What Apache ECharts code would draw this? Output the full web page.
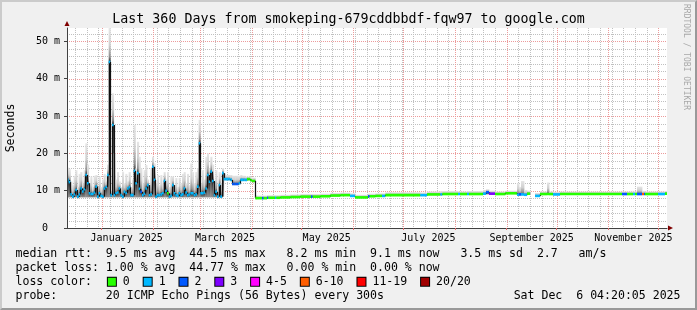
<!DOCTYPE html>
<html><head><meta charset="utf-8">
<script src="https://cdn.jsdelivr.net/npm/echarts@6/dist/echarts.min.js"></script>
<style>
html,body{margin:0;padding:0;background:#f0f0f0;}
#wrap{position:relative;width:697px;height:310px;}
#chart{position:absolute;left:0;top:0;width:697px;height:310px;}
#frame{position:absolute;left:0;top:0;width:697px;height:310px;box-sizing:border-box;border-style:solid;border-width:2px;border-color:#cbcbcb #999 #999 #cbcbcb;pointer-events:none;}
</style></head><body>
<div id="wrap"><div id="chart"></div><div id="frame"></div></div>
<script>
// ---------- time frame ----------
const START = Date.UTC(2024, 11, 11, 4, 20, 5);   // 360 days before Sat Dec 6 04:20:05 2025
const SPAN_DAYS = 360;
const Y_MAX = 53.6;

// ---------- data (each sample lasts until the next sample's start day) ----------
const sampleDay = [
  0,1,2,3,4,5,6,7,8,9, 10,11,12,13,14,15,16,17,18,19, 20,21,22,23,24,25,26,27,28,29,
  30,31,32,33,34,35,36,37,38,39, 40,41,42,43,44,45,46,47,48,49, 50,51,52,53,54,55,56,57,58,59,
  60,61,62,63,64,65,66,67,68,69, 70,71,72,73,74,75,76,77,78,79, 80,81,82,83,84,85,86,87,88,89,
  90,91,92,93,94,95,96,97,98,99, 100,101,102,103,104,105,106,107,108,109, 110,111,112,113,
  114,117,118,120,120.8, 124.8,125.6,128,134,140, 146.4,147.4,152,158,164, 169.8,172.8,180.6,181.6,185,
  189,191,212,216,224, 225.2,234.6,235.8,240,241.2, 249.6,251.4,253.2,256.8,263, 270,271.2,272.4,274.2,276,
  277.8,280.8,283.8,288,289.2, 291.6,295.8,333,336,339.6, 340.8,342,345,346.2,346.8, 354.6,358.8
];
const medianMs = [
  12.9,12.3,9.0,8.4,9.0,10.2,8.4,9.0,10.6,9.8,
  10.4,14.2,12.0,9.3,9.1,9.1,9.5,11.1,8.4,9.3,
  8.6,8.4,10.6,11.0,14.2,44.5,8.8,27.6,8.8,9.3,
  9.5,10.6,8.8,8.4,9.7,9.4,10.6,10.9,8.8,8.8,
  15.3,12.0,14.7,10.5,9.7,8.8,9.2,10.6,11.5,8.8,
  9.0,16.4,12.9,8.4,8.8,8.8,9.0,9.3,12.6,10.0,
  9.3,8.4,8.6,11.5,9.3,8.8,8.6,9.3,8.8,9.0,
  10.6,9.5,8.8,9.0,9.3,9.3,8.8,9.0,11.1,22.7,
  9.3,9.3,9.5,10.6,14.2,12.4,15.1,12.6,8.8,9.7,
  8.4,11.5,8.4,14.7,13.1,13.1,13.1,13.1,12.9,11.8,
  11.8,11.8,11.8,12.0,12.9,12.9,12.9,12.9,13.1,13.1,
  12.8,12.6,12.6,8.0,
  8.0,8.0,8.0,8.1,8.1, 8.1,8.1,8.2,8.3,8.4, 8.4,8.4,8.5,8.7,8.8, 8.6,8.2,8.5,8.5,8.6,
  8.6,8.8,8.8,9.0,9.0, 9.1,9.1,9.1,9.1,9.1, 9.2,9.6,9.2,9.1,9.3, 8.9,9.0,9.0,8.9,9.2,
  null,8.6,9.1,9.1,9.1, 9.0,9.1,9.1,9.1,9.1, 9.1,9.1,9.1,9.1,9.1, 9.1,9.2
];
const smokeLoMs = [
  8.2,8.2,8.2,8.0,8.2,8.2,8.0,8.2,8.2,8.2,
  8.2,8.2,8.2,8.2,8.2,8.2,8.2,8.2,8.0,8.2,
  8.2,8.0,8.2,8.2,8.2,8.2,8.2,8.2,8.2,8.2,
  8.2,8.2,8.2,8.0,8.2,8.2,8.2,8.2,8.2,8.2,
  8.2,8.2,8.2,8.2,8.2,8.2,8.2,8.2,8.2,8.2,
  8.2,8.2,8.2,8.0,8.2,8.2,8.2,8.2,8.2,8.2,
  8.2,8.0,8.2,8.2,8.2,8.2,8.2,8.2,8.2,8.2,
  8.2,8.2,8.2,8.2,8.2,8.2,8.2,8.2,8.2,8.2,
  8.2,8.2,8.2,8.2,8.2,8.2,8.2,8.2,8.2,8.2,
  8.0,8.2,8.0,8.4,12.8,12.8,12.8,12.8,12.6,11.5,
  11.5,11.5,11.5,11.7,12.6,12.6,12.6,12.6,12.8,12.8,
  12.5,12.3,12.3,7.8,
  7.8,7.8,7.8,7.9,7.9, 7.9,7.9,8.0,8.1,8.2, 8.2,8.2,8.3,8.5,8.6, 8.4,8.0,8.3,8.3,8.4,
  8.4,8.6,8.6,8.8,8.8, 8.9,8.9,8.9,8.9,8.9, 9.0,9.0,9.0,8.9,9.1, 8.7,8.8,8.8,8.7,9.0,
  null,8.4,8.9,8.9,8.9, 8.8,8.9,8.9,8.9,8.9, 8.9,8.9,8.9,8.9,8.9, 8.9,9.0
];
const smokeHiMs = [
  16.2,15.8,12.5,11.5,14.0,15.5,11.0,14.5,15.0,12.0,
  15.5,22.7,17.0,11.5,13.8,11.0,14.0,14.2,11.0,13.8,
  11.0,13.0,14.5,12.5,17.0,53.6,10.0,36.1,20.0,13.0,
  15.0,12.5,11.0,15.1,12.0,14.5,12.5,15.0,11.0,13.0,
  27.6,16.0,23.1,19.1,16.0,12.0,15.5,16.9,13.0,11.5,
  16.0,19.1,17.3,12.0,14.2,11.5,14.2,12.0,15.0,13.0,
  15.0,11.0,13.8,13.8,11.5,13.4,11.0,13.4,12.0,14.5,
  15.0,12.0,14.5,11.5,17.3,15.0,12.0,15.0,16.0,29.0,
  12.0,15.5,13.0,19.1,20.0,16.0,19.1,17.0,12.0,15.5,
  11.0,15.0,12.0,16.0,14.5,14.2,14.2,14.2,14.2,14.0,
  14.0,14.0,14.0,14.0,14.2,14.0,14.0,13.8,13.8,13.8,
  13.6,13.5,13.5,8.8,
  8.7,8.7,8.7,8.8,8.8, 8.8,8.8,8.9,9.0,9.1, 9.1,9.1,9.2,9.4,9.5, 9.3,8.9,9.2,9.2,9.3,
  9.3,9.6,9.5,9.8,9.9, 9.9,9.8,9.8,9.9,9.9, 10.2,10.4,10.0,9.8,10.0, 12.0,11.0,12.6,10.2,10.0,
  null,9.4,9.8,12.2,9.8, 9.7,9.8,9.8,9.8,9.8, 9.8,11.1,9.9,9.9,9.8, 9.8,9.9
];
const lossIdx = [
  1,1,1,1,1,1,1,1,1,1, 1,1,1,1,1,1,1,1,1,1, 1,1,1,1,1,1,1,1,1,1, 1,1,1,1,1,1,1,1,1,1,
  1,1,1,1,2,1,1,1,1,1, 1,1,1,1,1,1,1,1,1,1, 0,1,1,1,1,1,1,1,1,1, 1,1,1,1,1,1,1,1,1,1,
  1,1,1,1,1,1,1,1,1,1, 1,1,1,1,1,1,1,1,1,2, 2,2,2,1,1,1,1,1,0,0, 0,0,0,0,
  0,2,0,2,0, 1,0,0,0,0, 2,0,0,0,0, 1,0,2,0,0,
  1,0,1,0,1, 0,1,0,1,0, 1,2,3,0,0, 1,2,1,1,0,
  0,1,0,0,0, 1,0,2,0,1, 0,2,5,2,0, 1,0
];

const lossLabels = ['0','1','2','3','4-5','6-10','11-19','20/20'];
const lossColors = ['#26ff00','#00b8ff','#0059ff','#7e00ff','#ff00fe','#ff5e00','#ff0000','#a10000'];

const yTickValues = [0, 10, 20, 30, 40, 50];
const monthLabelText = ['January 2025','March 2025','May 2025','July 2025','September 2025','November 2025'];
const monthLabelMonth = [0, 2, 4, 6, 8, 10];

const titleText = 'Last 360 Days from smokeping-679cddbbdf-fqw97 to google.com';
const statMedian = 'median rtt:  9.5 ms avg  44.5 ms max   8.2 ms min  9.1 ms now   3.5 ms sd  2.7   am/s';
const statLoss   = 'packet loss: 1.00 % avg  44.77 % max   0.00 % min  0.00 % now';
const statProbe  = 'probe:       20 ICMP Echo Pings (56 Bytes) every 300s';
const statDate   = 'Sat Dec  6 04:20:05 2025';

// ---------- derived axis structure ----------
const DAY = 86400000;
const toDay = t => (t - START) / DAY;
const monthStartDays = [];
for (let m = 0; m < 12; m++) monthStartDays.push(toDay(Date.UTC(2025, m, 1)));
const weekDays = [];
for (let t = Date.UTC(2024, 11, 16); t < START + SPAN_DAYS * DAY; t += 7 * DAY) weekDays.push(toDay(t));
const labelDays = monthLabelMonth.map(m => toDay(Date.UTC(2025, m, 1)) + 15);

const vGrid = weekDays.map(d => [d, 0]).concat(monthStartDays.map(d => [d, 1]));
const hGrid = [];
for (let v = 2; v < Y_MAX; v += 2) hGrid.push([v, v % 10 === 0 ? 1 : 0]);

const smokeData = [], medData = [];
let prev = -1;
for (let i = 0; i < sampleDay.length; i++) {
  const s = sampleDay[i], e = i + 1 < sampleDay.length ? sampleDay[i + 1] : SPAN_DAYS;
  const m = medianMs[i];
  if (m == null) { prev = -1; continue; }
  smokeData.push([s, e, smokeLoMs[i], smokeHiMs[i], m]);
  medData.push([s, e, m, prev, lossIdx[i]]);
  prev = m;
}

const MONO = '"DejaVu Sans Mono", monospace';
const GRID_MINOR = '#c0c0c0', GRID_MAJOR = '#ec9b9b';

function renderV(params, api) {
  const cs = params.coordSys;
  const x = Math.round(api.coord([api.value(0), 0])[0]) + 0.5;
  const major = api.value(1) === 1;
  return {type: 'line', silent: true, z2: major ? 2 : 1,
    shape: {x1: x, y1: cs.y, x2: x, y2: cs.y + cs.height},
    style: {stroke: major ? GRID_MAJOR : GRID_MINOR, lineWidth: 1, lineDash: [1, 1]}};
}
function renderH(params, api) {
  const cs = params.coordSys;
  const y = Math.round(api.coord([0, api.value(0)])[1]) + 0.5;
  const major = api.value(1) === 1;
  return {type: 'line', silent: true, z2: major ? 2 : 1,
    shape: {x1: cs.x, y1: y, x2: cs.x + cs.width, y2: y},
    style: {stroke: major ? GRID_MAJOR : GRID_MINOR, lineWidth: 1, lineDash: [1, 1]}};
}
function renderSmoke(params, api) {
  const s = api.value(0), e = api.value(1), lo = api.value(2), hi = api.value(3), med = api.value(4);
  const a = api.coord([s, hi]), b = api.coord([e, lo]);
  const h = b[1] - a[1];
  if (h < 0.3) return null;
  let f = (hi - med) / (hi - lo);
  f = Math.max(0.02, Math.min(0.98, f));
  return {type: 'rect', silent: true,
    shape: {x: a[0], y: a[1], width: b[0] - a[0] + 0.4, height: h},
    style: {fill: {type: 'linear', x: 0, y: 0, x2: 0, y2: 1, colorStops: [
      {offset: 0, color: '#e6e6e6'},
      {offset: f * 0.5, color: '#cfcfcf'},
      {offset: f * 0.85, color: '#8e8e8e'},
      {offset: f, color: '#2c2c2c'},
      {offset: 1, color: '#909090'}]}}};
}
function renderMedian(params, api) {
  const s = api.value(0), e = api.value(1), m = api.value(2), pm = api.value(3), li = api.value(4);
  const a = api.coord([s, m]), b = api.coord([e, m]);
  const children = [];
  if (pm > 0) {
    const p = api.coord([s, pm]);
    const x = Math.round(a[0]) + 0.5;
    children.push({type: 'line', silent: true, shape: {x1: x, y1: p[1], x2: x, y2: a[1]}, style: {stroke: '#111', lineWidth: 1.2}});
  }
  children.push({type: 'line', silent: true, shape: {x1: a[0], y1: a[1], x2: b[0], y2: b[1]}, style: {stroke: lossColors[li], lineWidth: 2.6}});
  return {type: 'group', children};
}

// loss color legend line (rich text)
const rich = {t: {fontFamily: MONO, fontSize: 11.55, fill: '#000', color: '#000'}, g: {width: 2, height: 9}};
let lossText = '{t|loss color:  }{g|}';
lossLabels.forEach((lab, i) => {
  rich['b' + i] = {width: 8, height: 8, backgroundColor: lossColors[i], borderColor: '#000', borderWidth: 1, verticalAlign: 'middle'};
  lossText += '{b' + i + '|}{t| ' + lab + '  }';
});

const txt = (x, y, text, extra) => Object.assign({type: 'text', x, y, silent: true,
  style: Object.assign({text, font: '11.55px ' + MONO, fill: '#000', align: 'left', verticalAlign: 'middle'}, extra || {})});

const chart = echarts.init(document.getElementById('chart'), null, {renderer: 'canvas'});
chart.setOption({
  animation: false,
  backgroundColor: '#f0f0f0',
  grid: {left: 67, top: 28, width: 600, height: 200, show: true, backgroundColor: '#ffffff', borderWidth: 0},
  xAxis: [{
    type: 'value', min: 0, max: SPAN_DAYS, position: 'bottom', z: 10,
    axisLine: {show: true, onZero: false, lineStyle: {color: '#404040', width: 1}},
    axisTick: {show: true, length: 2, customValues: monthStartDays, lineStyle: {color: '#e07070'}},
    axisLabel: {show: true, customValues: labelDays, margin: 5, fontFamily: MONO, fontSize: 10, color: '#000',
      formatter: v => { const i = labelDays.findIndex(d => Math.abs(d - v) < 0.01); return i >= 0 ? monthLabelText[i] : ''; }},
    splitLine: {show: false}
  }, {
    type: 'value', min: 0, max: SPAN_DAYS, position: 'bottom', z: 11,
    axisLine: {show: true, onZero: false, symbol: ['none', 'triangle'], symbolSize: [5, 5], symbolOffset: [0, 3.5], lineStyle: {color: '#7f0000', opacity: 0}},
    axisTick: {show: false}, axisLabel: {show: false}, splitLine: {show: false}
  }],
  yAxis: [{
    type: 'value', min: 0, max: Y_MAX, interval: 10, z: 10,
    axisLine: {show: true, onZero: false, lineStyle: {color: '#404040', width: 1}},
    axisTick: {show: true, length: 3, customValues: yTickValues, lineStyle: {color: '#404040'}},
    axisLabel: {customValues: yTickValues, margin: 7, fontFamily: MONO, fontSize: 10, color: '#000',
      formatter: v => v === 0 ? '0  ' : v + ' m'},
    splitLine: {show: false}
  }, {
    type: 'value', min: 0, max: Y_MAX, position: 'left', z: 11,
    axisLine: {show: true, onZero: false, symbol: ['none', 'triangle'], symbolSize: [5, 5], symbolOffset: [0, 4.5], lineStyle: {color: '#7f0000', opacity: 0}},
    axisTick: {show: false}, axisLabel: {show: false}, splitLine: {show: false}
  }],
  graphic: [
    {type: 'text', x: 348.5, y: 19.3, silent: true, style: {text: titleText, font: '13.3px ' + MONO, fill: '#000', align: 'center', verticalAlign: 'middle'}},
    {type: 'text', x: 10.5, y: 128, rotation: Math.PI / 2, silent: true, style: {text: 'Seconds', font: '11.55px ' + MONO, fill: '#000', align: 'center', verticalAlign: 'middle'}},
    {type: 'text', x: 686, y: 57, rotation: -Math.PI / 2, silent: true, style: {text: 'RRDTOOL / TOBI OETIKER', font: '8px ' + MONO, fill: '#a8a8a8', align: 'center', verticalAlign: 'middle'}},
    txt(15.5, 254.2, statMedian),
    txt(15.5, 268.0, statLoss),
    {type: 'text', x: 15.5, y: 281.8, silent: true, style: {text: lossText, rich, font: '11.55px ' + MONO, fill: '#000', align: 'left', verticalAlign: 'middle'}},
    txt(15.5, 295.6, statProbe),
    txt(680.5, 295.6, statDate, {align: 'right'})
  ],
  series: [
    {type: 'custom', name: 'vgrid', xAxisIndex: 0, yAxisIndex: 0, z: 1, silent: true, renderItem: renderV, data: vGrid},
    {type: 'custom', name: 'hgrid', xAxisIndex: 0, yAxisIndex: 0, z: 1, silent: true, renderItem: renderH, data: hGrid},
    {type: 'custom', name: 'smoke', xAxisIndex: 0, yAxisIndex: 0, z: 2, silent: true, clip: true, renderItem: renderSmoke, data: smokeData},
    {type: 'custom', name: 'median', xAxisIndex: 0, yAxisIndex: 0, z: 3, silent: true, clip: true, renderItem: renderMedian, data: medData}
  ]
});
</script></body></html>
